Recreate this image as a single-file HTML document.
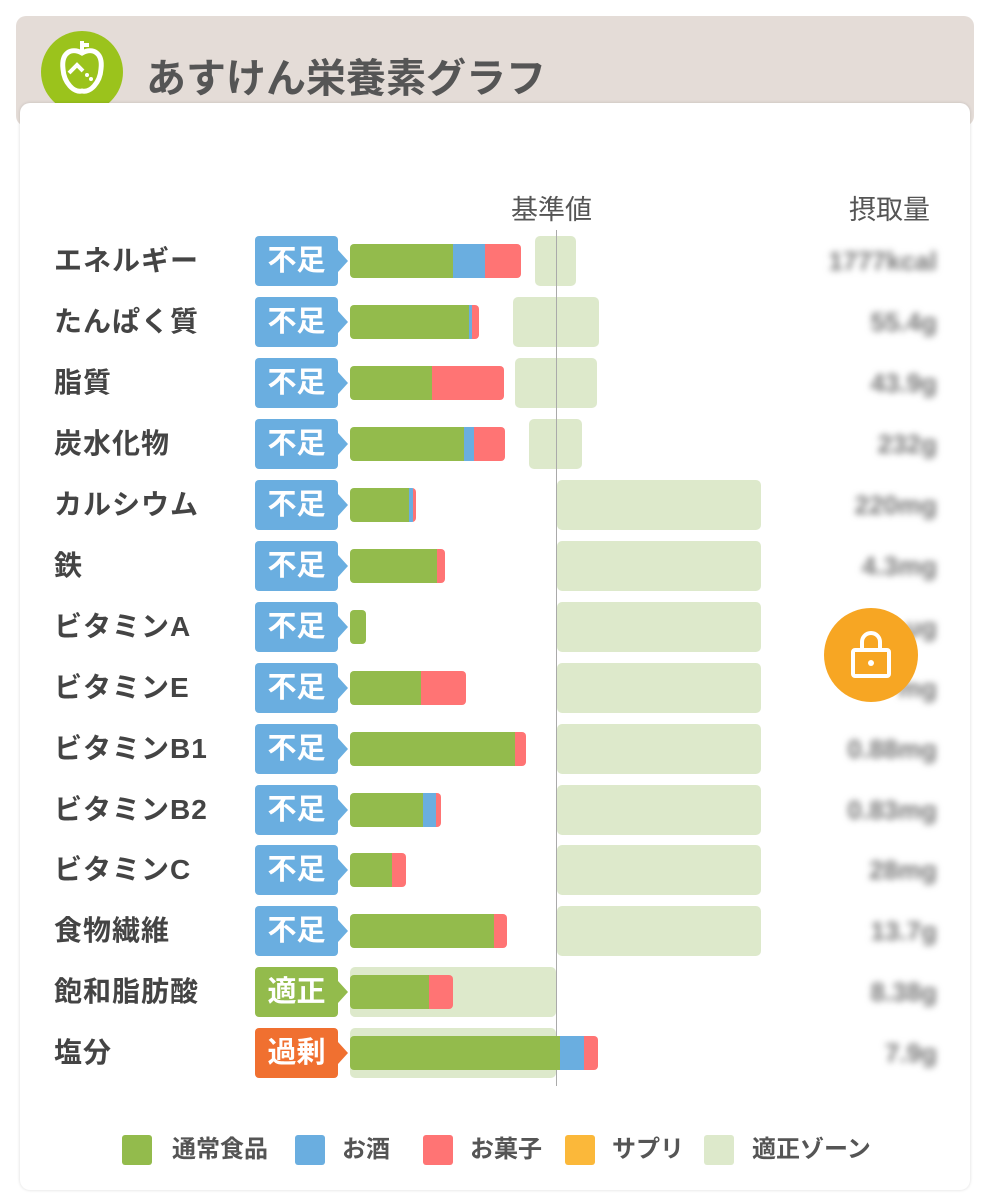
<!DOCTYPE html>
<html><head><meta charset="utf-8"><style>
body{margin:0;width:991px;height:1200px;background:#fff;position:relative;overflow:hidden;font-family:"Liberation Sans","Noto Sans CJK JP",sans-serif}
.a{position:absolute}
.hdr{left:16px;top:16px;width:958px;height:110px;background:#e4dcd7;border-radius:10px}
.card{left:20px;top:103px;width:950px;height:1087px;background:#fff;border-radius:10px;box-shadow:0 0 3px rgba(0,0,0,.15)}
.lbl{left:54px;font-size:28px;font-weight:bold;color:#444;height:40px;line-height:40px;letter-spacing:1px}
.bd{left:255px;width:83px;height:50px;border-radius:4px;color:#fff;font-size:29px;font-weight:bold;text-align:center;line-height:50px;padding-right:0}
.bd:after{content:"";position:absolute;right:-10px;top:14px;border-left:10px solid;border-left-color:inherit;border-top:11px solid transparent;border-bottom:11px solid transparent}
.b{background:#6aaee0;border-color:#6aaee0}.o{background:#f07030;border-color:#f07030}.g{background:#93bb4c;border-color:#93bb4c}
.z{background:#dde9cb;border-radius:5px;height:50px}
.bar{height:34px;display:flex;border-radius:4px;overflow:hidden;left:350px}
.bar i{display:block;height:100%}
.G{background:#93bb4c}.B{background:#6aaee0}.R{background:#ff7474}
.v{right:54px;font-size:26px;color:#777;font-weight:bold;filter:blur(3.5px);height:40px;line-height:40px}
.lg{top:1135px;width:30px;height:30px;border-radius:3px}
.lt{top:1133px;font-size:24px;color:#555;font-weight:bold;line-height:34px}
</style></head><body>
<div class="a hdr"></div>
<div class="a" style="left:41px;top:31px;width:82px;height:82px;border-radius:50%;background:#9bc31c"></div>
<svg class="a" style="left:41px;top:31px" width="82" height="82" viewBox="0 0 82 82"><path d="M41 22 C30 16 20 22 22 38 C23 52 33 62 41 60 C49 62 59 52 60 38 C62 22 52 16 41 22 Z" fill="none" stroke="#fff" stroke-width="5"/><path d="M41 22 V10 M41 14 h7" stroke="#fff" stroke-width="4" fill="none"/><path d="M28 42 l8-8 6 6" stroke="#fff" stroke-width="4" fill="none"/><circle cx="46" cy="44" r="2" fill="#fff"/><circle cx="50" cy="48" r="2" fill="#fff"/></svg>
<div class="a" style="left:146px;top:46px;font-size:40px;font-weight:bold;color:#555">あすけん栄養素グラフ</div>
<div class="a card"></div>
<div class="a" style="left:511px;top:188px;font-size:27px;color:#555">基準値</div>
<div class="a" style="left:849px;top:188px;font-size:27px;color:#555">摂取量</div>

<div class="a z" style="left:535px;top:236px;width:41px"></div>
<div class="a z" style="left:513px;top:297px;width:86px"></div>
<div class="a z" style="left:515px;top:358px;width:82px"></div>
<div class="a z" style="left:529px;top:419px;width:53px"></div>
<div class="a z" style="left:557px;top:480px;width:204px"></div>
<div class="a z" style="left:557px;top:541px;width:204px"></div>
<div class="a z" style="left:557px;top:602px;width:204px"></div>
<div class="a z" style="left:557px;top:663px;width:204px"></div>
<div class="a z" style="left:557px;top:724px;width:204px"></div>
<div class="a z" style="left:557px;top:785px;width:204px"></div>
<div class="a z" style="left:557px;top:845px;width:204px"></div>
<div class="a z" style="left:557px;top:906px;width:204px"></div>
<div class="a z" style="left:350px;top:967px;width:206px"></div>
<div class="a z" style="left:350px;top:1028px;width:206px"></div>
<div class="a" style="left:556px;top:230px;width:1px;height:856px;background:#aaa"></div>

<div class="a lbl" style="top:241px">エネルギー</div>
<div class="a lbl" style="top:302px">たんぱく質</div>
<div class="a lbl" style="top:363px">脂質</div>
<div class="a lbl" style="top:424px">炭水化物</div>
<div class="a lbl" style="top:485px">カルシウム</div>
<div class="a lbl" style="top:546px">鉄</div>
<div class="a lbl" style="top:607px">ビタミンA</div>
<div class="a lbl" style="top:668px">ビタミンE</div>
<div class="a lbl" style="top:729px">ビタミンB1</div>
<div class="a lbl" style="top:790px">ビタミンB2</div>
<div class="a lbl" style="top:850px">ビタミンC</div>
<div class="a lbl" style="top:911px">食物繊維</div>
<div class="a lbl" style="top:972px">飽和脂肪酸</div>
<div class="a lbl" style="top:1033px">塩分</div>

<div class="a bd b" style="top:236px">不足</div>
<div class="a bd b" style="top:297px">不足</div>
<div class="a bd b" style="top:358px">不足</div>
<div class="a bd b" style="top:419px">不足</div>
<div class="a bd b" style="top:480px">不足</div>
<div class="a bd b" style="top:541px">不足</div>
<div class="a bd b" style="top:602px">不足</div>
<div class="a bd b" style="top:663px">不足</div>
<div class="a bd b" style="top:724px">不足</div>
<div class="a bd b" style="top:785px">不足</div>
<div class="a bd b" style="top:845px">不足</div>
<div class="a bd b" style="top:906px">不足</div>
<div class="a bd g" style="top:967px">適正</div>
<div class="a bd o" style="top:1028px">過剰</div>

<div class="a bar" style="top:244px"><i class="G" style="width:103px"></i><i class="B" style="width:32px"></i><i class="R" style="width:36px"></i></div>
<div class="a bar" style="top:305px"><i class="G" style="width:119px"></i><i class="B" style="width:3px"></i><i class="R" style="width:7px"></i></div>
<div class="a bar" style="top:366px"><i class="G" style="width:82px"></i><i class="R" style="width:72px"></i></div>
<div class="a bar" style="top:427px"><i class="G" style="width:114px"></i><i class="B" style="width:10px"></i><i class="R" style="width:31px"></i></div>
<div class="a bar" style="top:488px"><i class="G" style="width:59px"></i><i class="B" style="width:4px"></i><i class="R" style="width:3px"></i></div>
<div class="a bar" style="top:549px"><i class="G" style="width:87px"></i><i class="R" style="width:8px"></i></div>
<div class="a bar" style="top:610px"><i class="G" style="width:16px"></i></div>
<div class="a bar" style="top:671px"><i class="G" style="width:71px"></i><i class="R" style="width:45px"></i></div>
<div class="a bar" style="top:732px"><i class="G" style="width:165px"></i><i class="R" style="width:11px"></i></div>
<div class="a bar" style="top:793px"><i class="G" style="width:73px"></i><i class="B" style="width:13px"></i><i class="R" style="width:5px"></i></div>
<div class="a bar" style="top:853px"><i class="G" style="width:42px"></i><i class="R" style="width:14px"></i></div>
<div class="a bar" style="top:914px"><i class="G" style="width:144px"></i><i class="R" style="width:13px"></i></div>
<div class="a bar" style="top:975px"><i class="G" style="width:79px"></i><i class="R" style="width:24px"></i></div>
<div class="a bar" style="top:1036px"><i class="G" style="width:210px"></i><i class="B" style="width:24px"></i><i class="R" style="width:14px"></i></div>

<div class="a v" style="top:241px">1777kcal</div>
<div class="a v" style="top:302px">55.4g</div>
<div class="a v" style="top:363px">43.9g</div>
<div class="a v" style="top:424px">232g</div>
<div class="a v" style="top:485px">220mg</div>
<div class="a v" style="top:546px">4.3mg</div>
<div class="a v" style="top:607px">μg</div>
<div class="a v" style="top:668px">mg</div>
<div class="a v" style="top:729px">0.88mg</div>
<div class="a v" style="top:790px">0.83mg</div>
<div class="a v" style="top:850px">28mg</div>
<div class="a v" style="top:911px">13.7g</div>
<div class="a v" style="top:972px">8.38g</div>
<div class="a v" style="top:1033px">7.9g</div>

<div class="a" style="left:824px;top:608px;width:94px;height:94px;border-radius:50%;background:#f7a623"></div>
<svg class="a" style="left:824px;top:608px" width="94" height="94" viewBox="0 0 94 94"><path d="M38 42 v-8 a9 9 0 0 1 18 0 v8" fill="none" stroke="#fff" stroke-width="4"/><rect x="29" y="42" width="36" height="26" rx="2" fill="none" stroke="#fff" stroke-width="4"/><circle cx="47" cy="55" r="3" fill="#fff"/></svg>

<div class="a lg G" style="left:122px"></div><div class="a lt" style="left:172px">通常食品</div>
<div class="a lg B" style="left:295px"></div><div class="a lt" style="left:342px">お酒</div>
<div class="a lg R" style="left:423px"></div><div class="a lt" style="left:470px">お菓子</div>
<div class="a lg" style="left:565px;background:#fbb83a"></div><div class="a lt" style="left:612px">サプリ</div>
<div class="a lg" style="left:704px;background:#dde9cb"></div><div class="a lt" style="left:752px">適正ゾーン</div>
</body></html>
